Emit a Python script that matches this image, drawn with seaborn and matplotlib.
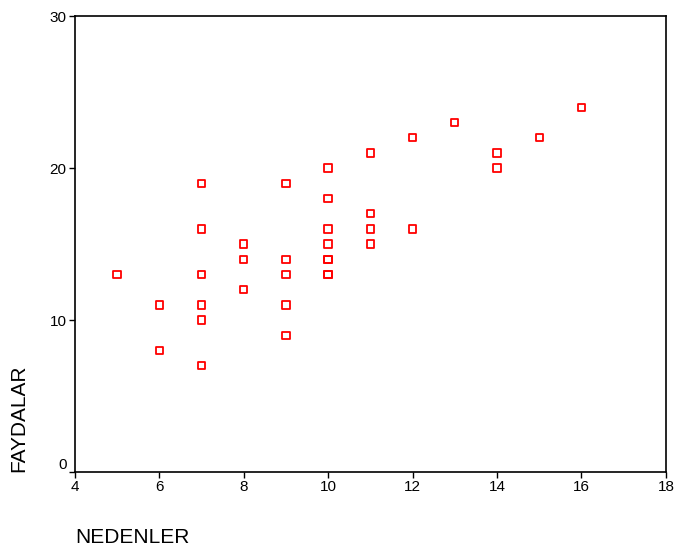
import pandas as pd
import matplotlib.pyplot as plt
import seaborn as sns

nedenler = [5, 6, 6, 7, 7, 7, 7, 7, 7, 8, 8, 8, 9, 9, 9, 9, 9,
            10, 10, 10, 10, 10, 10, 10, 10, 11, 11, 11, 11, 12, 12, 13, 14, 14, 15, 16]
faydalar = [13, 11, 8, 19, 16, 13, 11, 10, 7, 15, 14, 12, 19, 14, 13, 11, 9,
            20, 18, 16, 15, 14, 14, 13, 13, 21, 17, 16, 15, 22, 16, 23, 21, 20, 22, 24]

df = pd.DataFrame({'NEDENLER': nedenler, 'FAYDALAR': faydalar})

sns.set_style("ticks")
plt.rcParams['font.family'] = ['Liberation Sans', 'DejaVu Sans']
plt.rcParams['text.color'] = 'black'

fig = plt.figure(figsize=(6.74, 5.54), dpi=100)
ax = fig.add_axes([0.111, 0.148, 0.877, 0.823])

sns.scatterplot(x='NEDENLER', y='FAYDALAR', data=df, ax=ax, marker='s', s=28,
                facecolor='none', edgecolor='#ff0000', linewidth=1.3, legend=False)

ax.set_xlim(4, 18)
ax.set_ylim(0, 30)
ax.set_xticks(range(4, 19, 2))
ax.set_yticks([0, 10, 20, 30])
ax.tick_params(direction='out', length=4, width=1, labelsize=11, colors='black',
               labelcolor='black', pad=2)
ax.get_yticklabels()[0].set_va('bottom')
for side in ['left', 'bottom', 'right', 'top']:
    ax.spines[side].set_visible(True)
    ax.spines[side].set_linewidth(1.2)
    ax.spines[side].set_color('black')

ax.set_xlabel('')
ax.set_ylabel('')
fig.text(0.111, 0.012, 'NEDENLER', fontsize=15, ha='left', va='bottom', color='black')
fig.text(0.013, 0.148, 'FAYDALAR', fontsize=15, rotation=90, ha='left', va='bottom',
         color='black')

fig.savefig('out.png', dpi=100)
